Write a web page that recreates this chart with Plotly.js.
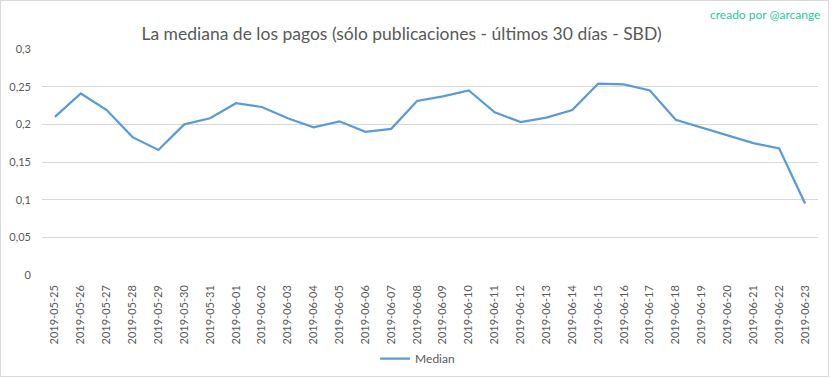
<!DOCTYPE html>
<html>
<head>
<meta charset="utf-8">
<script src="https://cdn.plot.ly/plotly-3.0.1.min.js"></script>
<style>
  html, body { margin: 0; padding: 0; background: #fff; }
  #frame { position: absolute; left: 0; top: 0; width: 827px; height: 375px; border: 1px solid #d9d9d9; }
  #chart { position: absolute; left: 0; top: 0; width: 833px; height: 378px; }
</style>
</head>
<body>
<div id="frame"></div>
<div id="chart"></div>
<script>
const dates = [
  "2019-05-25","2019-05-26","2019-05-27","2019-05-28","2019-05-29","2019-05-30","2019-05-31",
  "2019-06-01","2019-06-02","2019-06-03","2019-06-04","2019-06-05","2019-06-06","2019-06-07",
  "2019-06-08","2019-06-09","2019-06-10","2019-06-11","2019-06-12","2019-06-13","2019-06-14",
  "2019-06-15","2019-06-16","2019-06-17","2019-06-18","2019-06-19","2019-06-20","2019-06-21",
  "2019-06-22","2019-06-23"
];
const median = [
  0.210, 0.241, 0.219, 0.183, 0.166, 0.200, 0.208,
  0.228, 0.223, 0.208, 0.196, 0.204, 0.190, 0.194,
  0.231, 0.237, 0.245, 0.216, 0.203, 0.209, 0.219,
  0.254, 0.253, 0.245, 0.206, 0.196, 0.186, 0.175,
  0.168, 0.095
];
const yTickVals = [0, 0.05, 0.1, 0.15, 0.2, 0.25, 0.3];
const yTickText = ["0", "0,05", "0,1", "0,15", "0,2", "0,25", "0,3"];
const titleText = "La mediana de los pagos (sólo publicaciones - últimos 30 días - SBD)";
const creditText = "creado por @arcange";
const seriesName = "Median";

const font = "Lato, 'Open Sans', sans-serif";

Plotly.newPlot("chart", [{
  x: dates,
  y: median,
  type: "scatter",
  mode: "lines",
  name: seriesName,
  line: { color: "#5b9bd5", width: 2.25 },
  showlegend: true
}], {
  width: 833,
  height: 378,
  paper_bgcolor: "rgba(0,0,0,0)",
  plot_bgcolor: "rgba(0,0,0,0)",
  margin: { l: 42, r: 15, t: 49, b: 103, autoexpand: false },
  font: { family: font, color: "#595959", size: 11 },
  title: {
    text: titleText,
    font: { family: font, size: 17.5, color: "#595959" },
    x: 0.482, xanchor: "center",
    y: 0.91, yanchor: "middle"
  },
  xaxis: {
    type: "category",
    range: [-0.5, 29.5],
    tickangle: -90,
    showgrid: false,
    zeroline: false,
    showline: false,
    ticks: "",
    automargin: false,
    ticklabelstandoff: 7,
    tickfont: { size: 11, color: "#595959" },
    fixedrange: true
  },
  yaxis: {
    range: [0, 0.3],
    tickvals: yTickVals,
    ticktext: yTickText,
    showgrid: true,
    gridcolor: "#d9d9d9",
    gridwidth: 1,
    zeroline: false,
    showline: false,
    ticks: "",
    automargin: false,
    ticklabelstandoff: 10,
    tickfont: { size: 11, color: "#595959" },
    fixedrange: true
  },
  legend: {
    orientation: "h",
    x: 0.484, xanchor: "center",
    y: -0.37, yanchor: "middle",
    font: { size: 12, color: "#595959" },
    itemwidth: 30
  },
  annotations: [{
    text: creditText,
    xref: "paper", yref: "paper",
    x: 1.005, xanchor: "right",
    y: 1.152, yanchor: "middle",
    showarrow: false,
    font: { family: font, size: 12, color: "#1fc9a0" }
  }]
}, { displayModeBar: false, staticPlot: true });
</script>
</body>
</html>
